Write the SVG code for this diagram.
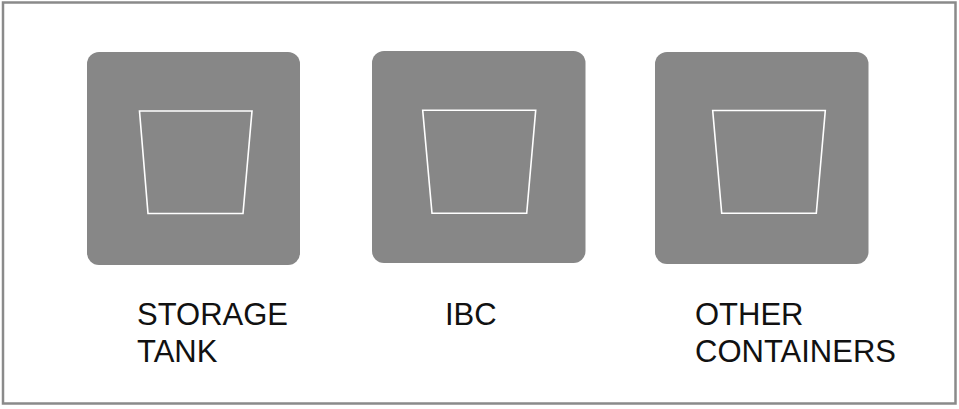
<svg xmlns="http://www.w3.org/2000/svg" width="959" height="409" viewBox="0 0 959 409">
<style>
.frame{fill:#ffffff;stroke:#8a8a8a;stroke-width:2.5}
.box{fill:#878787}
.cup{fill:none;stroke:#ffffff;stroke-width:1.6;stroke-linejoin:miter}
.lbl{font-family:"Liberation Sans",Arial,sans-serif;font-size:31px;fill:#111111}
</style>
<rect class="frame" x="3" y="2.5" width="952.5" height="401"/>
<g id="storage-tank">
<rect class="box" x="87" y="52" width="213" height="213" rx="12"/>
<polygon class="cup" points="139.5,111 252,111 243,213.5 148,213.5"/>
<text class="lbl" x="137" y="325">STORAGE</text>
<text class="lbl" x="137" y="362">TANK</text>
</g>
<g id="ibc">
<rect class="box" x="372" y="51" width="213.5" height="212" rx="12"/>
<polygon class="cup" points="422.7,110.3 535.7,110.3 526.7,213.3 432,213.3"/>
<text class="lbl" x="445" y="325">IBC</text>
</g>
<g id="other-containers">
<rect class="box" x="655" y="52" width="213.5" height="212" rx="12"/>
<polygon class="cup" points="712.7,110.5 825.3,110.5 816.3,213.3 721.7,213.3"/>
<text class="lbl" x="695" y="325">OTHER</text>
<text class="lbl" x="695" y="362">CONTAINERS</text>
</g>
<g id="connectors"></g>
</svg>
